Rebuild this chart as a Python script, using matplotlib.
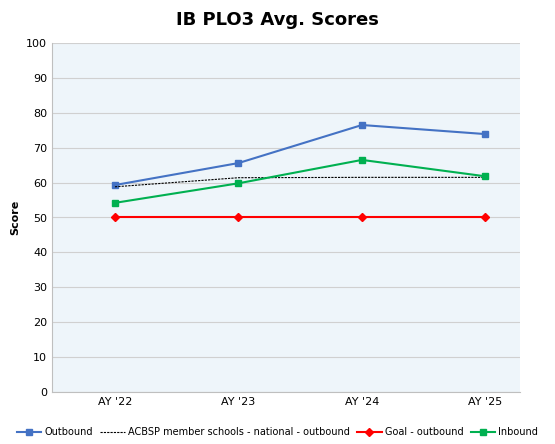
import matplotlib
matplotlib.use("Agg")
import matplotlib.pyplot as plt

categories = ["AY '22", "AY '23", "AY '24", "AY '25"]
outbound = [59.3, 65.6, 76.5, 73.9]
acbsp = [58.8, 61.4, 61.5, 61.5]
goal = [50, 50, 50, 50]
inbound = [54.2, 59.8, 66.5, 61.8]

fig = plt.figure(figsize=(5.55, 4.44), dpi=100)
ax = fig.add_axes([52/555, 1-392/444, 468/555, 349/444])
ax.set_facecolor("#eef5fa")
x = range(len(categories))
ax.plot(x, outbound, color="#4472c4", marker="s", ms=5, lw=1.5, label="Outbound")
ax.plot(x, acbsp, color="black", ls="--", lw=0.8, dashes=(2, 1), label="ACBSP member schools - national - outbound")
ax.plot(x, goal, color="#ff0000", marker="D", ms=4, lw=1.5, label="Goal - outbound")
ax.plot(x, inbound, color="#00b050", marker="s", ms=5, lw=1.5, label="Inbound")
ax.set_xlim(-0.51, 3.28)
ax.set_ylim(0, 100)
ax.set_yticks(range(0, 101, 10))
ax.set_xticks(list(x))
ax.set_xticklabels(categories)
ax.tick_params(labelsize=8, length=0)
ax.grid(axis="y", color="#d0d0d0", lw=0.8)
ax.set_axisbelow(True)
for s in ["top", "right"]:
    ax.spines[s].set_visible(False)
for s in ["left", "bottom"]:
    ax.spines[s].set_color("#bfbfbf")
ax.set_ylabel("Score", fontsize=8, fontweight="bold")
fig.suptitle("IB PLO3 Avg. Scores", fontsize=13, fontweight="bold", y=0.975)
fig.legend(loc="lower center", ncol=4, fontsize=7, frameon=False, bbox_to_anchor=(0.5, -0.005),
           handlelength=2.5, columnspacing=0.8, handletextpad=0.3)
fig.savefig("out.png", dpi=100)
